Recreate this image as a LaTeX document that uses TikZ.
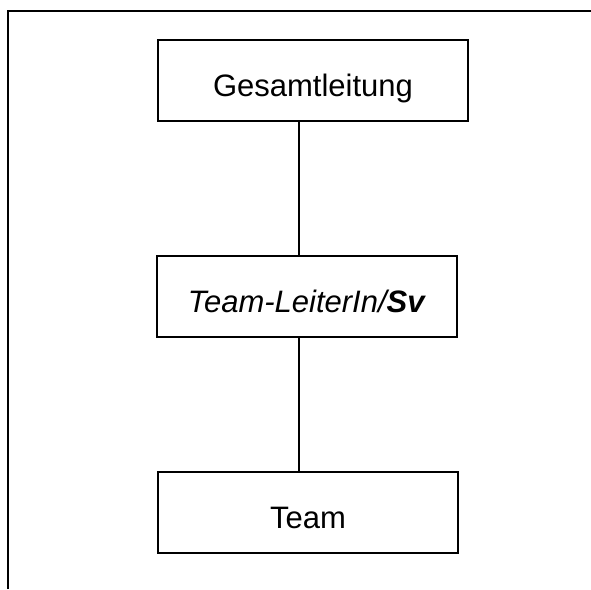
\documentclass[tikz,border=0pt]{standalone}
\usepackage{fontspec}
\setmainfont{Liberation Sans}
\usetikzlibrary{positioning}

\begin{document}
\begin{tikzpicture}[x=1pt,y=-1pt,
	orgbox/.style={draw,line width=1.5pt,inner sep=0pt,minimum width=300pt,minimum height=81pt,text height=31pt,text depth=0pt,font=\fontsize{31}{37}\selectfont},
	orgline/.style={line width=1.5pt}]
	\useasboundingbox (0,0) rectangle (591,589);
%	frame, open at right and bottom
	\draw[line width=2pt] (7.5,589) -- (7.5,11) -- (591,11);

	\node[orgbox,minimum width=310pt] (leitung) at (313,80.5) {Gesamtleitung};
	\node[orgbox] (teamleiter) at (307,296.5) {\textit{Team-LeiterIn/\textbf{Sv}}};
	\node[orgbox] (team) at (308,512.5) {Team};

	\coordinate (spine) at (299,0);
	\draw[orgline] (leitung.south -| spine) -- (teamleiter.north -| spine);
	\draw[orgline] (teamleiter.south -| spine) -- (team.north -| spine);
\end{tikzpicture}
\end{document}
